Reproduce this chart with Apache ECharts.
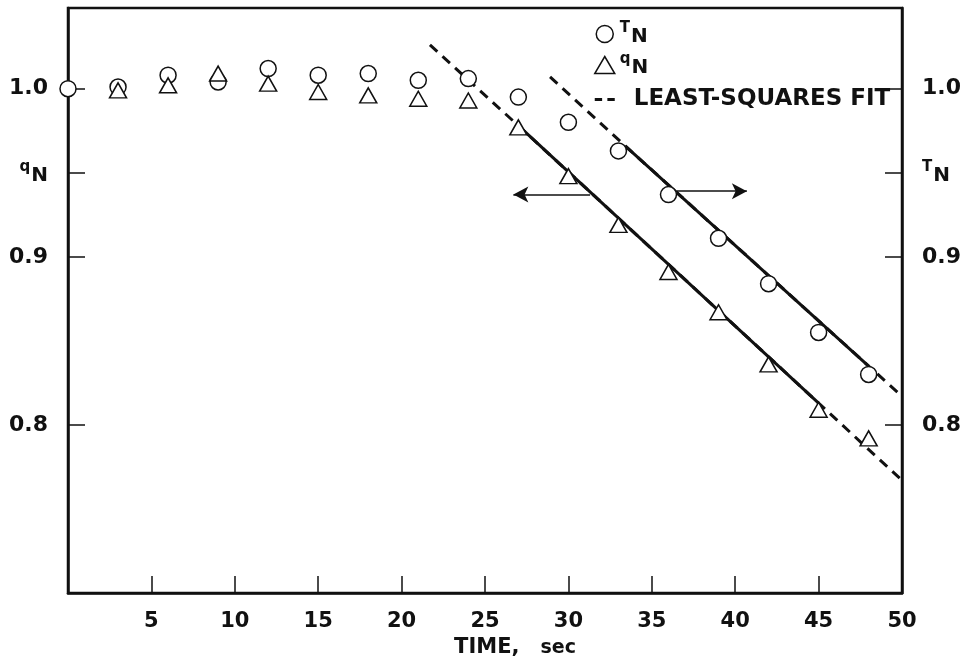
<!DOCTYPE html>
<html>
<head>
<meta charset="utf-8">
<script src="https://cdn.jsdelivr.net/npm/echarts@6/dist/echarts.min.js"></script>
<style>
  html, body { margin: 0; padding: 0; background: #fff; }
  #chart { width: 966px; height: 668px; }
</style>
</head>
<body>
<div id="chart"></div>
<script>
const tTime = [0, 3, 6, 9, 12, 15, 18, 21, 24, 27, 30, 33, 36, 39, 42, 45, 48];
const tValue = [1.000, 1.001, 1.008, 1.004, 1.012, 1.008, 1.009, 1.005, 1.006, 0.995, 0.980, 0.963, 0.937, 0.911, 0.884, 0.855, 0.830];
const qTime = [3, 6, 9, 12, 15, 18, 21, 24, 27, 30, 33, 36, 39, 42, 45, 48];
const qValue = [0.999, 1.002, 1.009, 1.003, 0.998, 0.996, 0.994, 0.993, 0.977, 0.948, 0.919, 0.891, 0.867, 0.836, 0.809, 0.792];

// least-squares lines: [dashed start, solid start, solid end, dashed end]
const qFitTime = [21.7, 27, 45, 50];
const qFitValue = [1.026, 0.978, 0.813, 0.767];
const tFitTime = [28.9, 33.4, 48, 50];
const tFitValue = [1.007, 0.966, 0.835, 0.817];

// arrows pointing to the axis each curve belongs to
const qArrowTime = [31.3, 26.7];
const qArrowValue = [0.937, 0.937];
const tArrowTime = [36.5, 40.7];
const tArrowValue = [0.939, 0.939];

const xTicks = [5, 10, 15, 20, 25, 30, 35, 40, 45, 50];
const yTicks = [0.8, 0.9, 0.95, 1.0];

const INK = '#111';
const FONT = '"DejaVu Sans", "Liberation Sans", sans-serif';

const pairs = (xs, ys) => xs.map((x, i) => [x, ys[i]]);

// small raised letter + bold N, as in "qN" / "TN"
const subRich = {
  s: { fontSize: 15, fontWeight: 'bold', fontFamily: FONT, color: INK, verticalAlign: 'top', lineHeight: 26, padding: [0, 1, 0, 0] },
  b: { fontSize: 20, fontWeight: 'bold', fontFamily: FONT, color: INK, verticalAlign: 'bottom', lineHeight: 26, padding: [10, 0, 0, 0] },
  f: { fontSize: 23, fontWeight: 'bold', fontFamily: FONT, color: INK, lineHeight: 36, padding: [9, 0, 9, 14] }
};

function yAxisCfg(pos, letter) {
  return {
    type: 'value', position: pos, min: 0.7, max: 1.048,
    axisLine: { show: true, lineStyle: { color: INK, width: 2.5 } },
    axisTick: { show: true, inside: true, length: 17, customValues: yTicks, lineStyle: { color: INK, width: 1.5 } },
    axisLabel: {
      customValues: yTicks, margin: 20,
      color: INK, fontSize: 22, fontWeight: 'bold', fontFamily: FONT,
      formatter: v => Math.abs(v - 0.95) < 1e-6 ? '{s|' + letter + '}{b|N}' : v.toFixed(1),
      rich: subRich
    },
    splitLine: { show: false }
  };
}

const chart = echarts.init(document.getElementById('chart'));
chart.setOption({
  animation: false,
  backgroundColor: '#fff',
  grid: { left: 68, right: 64, top: 8, bottom: 75, show: true, borderColor: INK, borderWidth: 2.5 },
  legend: {
    orient: 'vertical', left: 594, top: 17, itemGap: 1, padding: 0,
    itemWidth: 20, itemHeight: 17,
    data: [
      { name: 'T_N' },
      { name: 'q_N' },
      { name: 'LEAST-SQUARES FIT', icon: 'path://M0,0h7v3h-7z M12,0h7v3h-7z', itemStyle: { color: INK, borderWidth: 0 } }
    ],
    formatter: name => name === 'T_N' ? '{s|T}{b|N}' : name === 'q_N' ? '{s|q}{b|N}' : '{f|' + name + '}',
    textStyle: { color: INK, fontSize: 20, fontWeight: 'bold', fontFamily: FONT, rich: subRich },
    itemStyle: { color: '#fff', borderColor: INK, borderWidth: 1.5 },
    selectedMode: false
  },
  xAxis: {
    type: 'value', min: 0, max: 50, interval: 5,
    axisLine: { show: true, lineStyle: { color: INK, width: 2.5 } },
    axisTick: { show: true, inside: true, length: 17, customValues: xTicks, lineStyle: { color: INK, width: 1.5 } },
    axisLabel: {
      margin: 18, color: INK, fontSize: 21, fontWeight: 'bold', fontFamily: FONT,
      customValues: xTicks, formatter: v => String(v)
    },
    splitLine: { show: false },
    name: '{a|TIME,}{c|sec}', nameLocation: 'middle', nameGap: 40,
    nameTextStyle: {
      padding: [0, 0, 0, 60],
      rich: {
        a: { fontSize: 21, fontWeight: 'bold', fontFamily: FONT, color: INK, verticalAlign: 'bottom' },
        c: { fontSize: 19, fontWeight: 'bold', fontFamily: FONT, color: INK, verticalAlign: 'bottom', padding: [0, 0, 0, 21] }
      }
    }
  },
  yAxis: [yAxisCfg('left', 'q'), yAxisCfg('right', 'T')],
  series: [
    {
      name: 'LEAST-SQUARES FIT', type: 'line', yAxisIndex: 0, symbol: 'none', z: 2,
      data: pairs(qFitTime, qFitValue),
      lineStyle: { color: INK, width: 3, type: [10, 7] }
    },
    {
      name: 'LEAST-SQUARES FIT', type: 'line', yAxisIndex: 1, symbol: 'none', z: 2,
      data: pairs(tFitTime, tFitValue),
      lineStyle: { color: INK, width: 3, type: [10, 7] }
    },
    {
      name: 'q fit solid', type: 'line', yAxisIndex: 0, symbol: 'none', z: 3,
      data: pairs(qFitTime.slice(1, 3), qFitValue.slice(1, 3)),
      lineStyle: { color: INK, width: 3 }
    },
    {
      name: 't fit solid', type: 'line', yAxisIndex: 1, symbol: 'none', z: 3,
      data: pairs(tFitTime.slice(1, 3), tFitValue.slice(1, 3)),
      lineStyle: { color: INK, width: 3 }
    },
    {
      name: 'arrows', type: 'line', data: [], z: 3,
      markLine: {
        silent: true, animation: false,
        symbol: ['none', 'arrow'], symbolSize: [12, 15],
        lineStyle: { color: INK, width: 1.5, type: 'solid' },
        itemStyle: { color: INK },
        label: { show: false },
        emphasis: { disabled: true },
        data: [
          [{ coord: [qArrowTime[0], qArrowValue[0]] }, { coord: [qArrowTime[1], qArrowValue[1]] }],
          [{ coord: [tArrowTime[0], tArrowValue[0]] }, { coord: [tArrowTime[1], tArrowValue[1]] }]
        ]
      }
    },
    {
      name: 'T_N', type: 'scatter', yAxisIndex: 1, symbol: 'circle', symbolSize: 16, z: 4,
      data: pairs(tTime, tValue),
      itemStyle: { color: '#fff', borderColor: INK, borderWidth: 1.5, opacity: 1 }
    },
    {
      name: 'q_N', type: 'scatter', yAxisIndex: 0, symbol: 'triangle', symbolSize: [17, 15], z: 5,
      data: pairs(qTime, qValue),
      itemStyle: { color: '#fff', borderColor: INK, borderWidth: 1.5, opacity: 1 }
    }
  ]
});
</script>
</body>
</html>
